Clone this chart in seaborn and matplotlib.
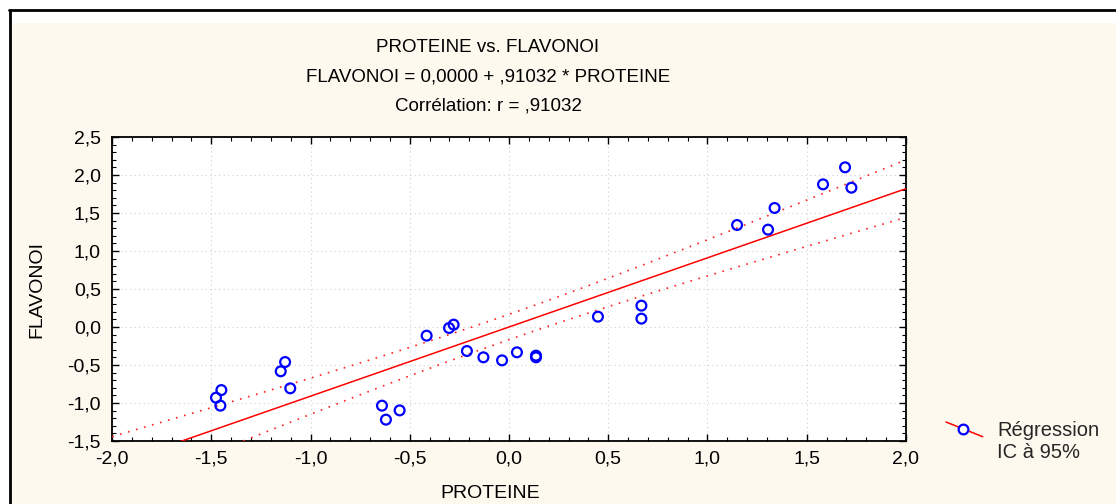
import numpy as np
import pandas as pd
import matplotlib
matplotlib.use("Agg")
import matplotlib.pyplot as plt
import seaborn as sns
from matplotlib.lines import Line2D
from matplotlib.patches import Rectangle
from matplotlib.ticker import MultipleLocator, FuncFormatter

# ---- data ----
proteine = [-1.476, -1.449, -1.454, -1.150, -1.128, -1.102, -0.640, -0.620, -0.551,
            -0.415, -0.302, -0.279, -0.212, -0.129, -0.035, 0.040, 0.136, 0.136,
            0.448, 0.667, 0.667, 1.149, 1.305, 1.338, 1.582, 1.693, 1.725]
flavonoi = [-0.930, -0.830, -1.035, -0.583, -0.461, -0.807, -1.035, -1.219, -1.097,
            -0.114, -0.013, 0.031, -0.316, -0.399, -0.439, -0.333, -0.377, -0.399,
            0.136, 0.281, 0.110, 1.342, 1.281, 1.566, 1.877, 2.101, 1.833]
intercept = 0.0
slope = 0.91032
t_975 = 2.060          # Student t, 0.975 quantile, df = n - 2 = 25
x_limits = [-2.0, 2.0]
y_limits = [-1.5, 2.5]
title_lines = ["PROTEINE vs. FLAVONOI",
               "FLAVONOI = 0,0000 + ,91032 * PROTEINE",
               "Corrélation: r = ,91032"]
x_label = "PROTEINE"
y_label = "FLAVONOI"
legend_labels = ["Régression", "IC à 95%"]

# ---- regression line and 95% confidence band ----
x_arr = np.asarray(proteine)
y_arr = np.asarray(flavonoi)
n = len(x_arr)
resid = y_arr - (intercept + slope * x_arr)
s_res = np.sqrt(np.sum(resid ** 2) / (n - 2))
x_mean = x_arr.mean()
sxx = np.sum((x_arr - x_mean) ** 2)
xs = np.linspace(x_limits[0], x_limits[1], 201)
fit = intercept + slope * xs
half = t_975 * s_res * np.sqrt(1.0 / n + (xs - x_mean) ** 2 / sxx)
band = pd.DataFrame({"x": xs, "fit": fit, "lo": fit - half, "hi": fit + half})
points = pd.DataFrame({"PROTEINE": proteine, "FLAVONOI": flavonoi})

# ---- figure ----
sns.set_theme(style="white")
plt.rcParams['font.family'] = ['Liberation Sans', 'DejaVu Sans']

W, H = 1116, 504
fig = plt.figure(figsize=(W / 100, H / 100), dpi=100, facecolor="white")


def fx(px):
    return px / W


def fy(py):
    return 1 - py / H


cream = "#FEF9EE"
fig.add_artist(Rectangle((fx(11), 0), 1 - fx(11), fy(23), transform=fig.transFigure,
                         facecolor=cream, edgecolor="none", zorder=-5))
fig.add_artist(Line2D([fx(9), 1], [fy(10), fy(10)], color="black", lw=2.0,
                      transform=fig.transFigure, zorder=5))
fig.add_artist(Line2D([fx(10), fx(10)], [fy(10), 0], color="black", lw=2.0,
                      transform=fig.transFigure, zorder=5))

ax = fig.add_axes([fx(112), fy(441), fx(906) - fx(112), (441 - 137) / H])
ax.set_facecolor("white")

sns.lineplot(data=band, x="x", y="fit", ax=ax, color="#FF0000", lw=1.1, zorder=3)
sns.lineplot(data=band, x="x", y="hi", ax=ax, color="#FF2020", lw=1.2,
             linestyle=(0, (1, 4)), zorder=3)
sns.lineplot(data=band, x="x", y="lo", ax=ax, color="#FF2020", lw=1.2,
             linestyle=(0, (1, 4)), zorder=3)
sns.scatterplot(data=points, x="PROTEINE", y="FLAVONOI", ax=ax, marker="o", s=50,
                color="#0000FF", facecolor="none", edgecolor="#0000FF",
                linewidth=1.6, zorder=4)

ax.set_xlim(*x_limits)
ax.set_ylim(*y_limits)
ax.xaxis.set_major_locator(MultipleLocator(0.5))
ax.yaxis.set_major_locator(MultipleLocator(0.5))
ax.xaxis.set_minor_locator(MultipleLocator(0.1))
ax.yaxis.set_minor_locator(MultipleLocator(0.1))
fmt = FuncFormatter(lambda v, p: f"{v:.1f}".replace(".", ",").replace("-0,0", "0,0"))
ax.xaxis.set_major_formatter(fmt)
ax.yaxis.set_major_formatter(fmt)
ax.tick_params(which="both", direction="in", top=True, right=True, bottom=True,
               left=True, color="black")
ax.tick_params(which="major", length=5, width=1, labelsize=14, colors="black")
ax.tick_params(which="minor", length=3, width=0.8)
ax.tick_params(axis="y", which="major", pad=8)
ax.tick_params(axis="x", which="major", pad=7)
for sp in ax.spines.values():
    sp.set_color("black")
    sp.set_linewidth(1.3)
ax.grid(True, which="major", color="#D0D0D0", linestyle=(0, (1, 3)), lw=0.8)
ax.set_axisbelow(True)

ax.set_xlabel(x_label, fontsize=14, color="black")
ax.set_ylabel(y_label, fontsize=14, color="black")
ax.xaxis.label.set_va("center")
ax.yaxis.label.set_va("center")
ax.xaxis.set_label_coords((490 - 112) / 794, (441 - 493) / 304)
ax.yaxis.set_label_coords((37 - 112) / 794, 0.5)

for i, line in enumerate(title_lines):
    fig.text(fx(488), fy(47 + 29.5 * i), line, ha="center", va="center",
             fontsize=13.5, color="black")

# legend glyph
fig.add_artist(Line2D([fx(946), fx(982.7)], [fy(422), fy(436.7)], color="#FF0000",
                      lw=1.1, transform=fig.transFigure))
fig.add_artist(Line2D([fx(963.3)], [fy(429.3)], marker="o", mfc="white", mec="#0000FF",
                      ms=7, mew=1.6, ls="none", transform=fig.transFigure))
fig.text(fx(997), fy(430.7), legend_labels[0], ha="left", va="center", fontsize=14.5)
fig.text(fx(997), fy(452.7), legend_labels[1], ha="left", va="center", fontsize=14.5)

fig.savefig("out.png", dpi=100, facecolor=fig.get_facecolor())
